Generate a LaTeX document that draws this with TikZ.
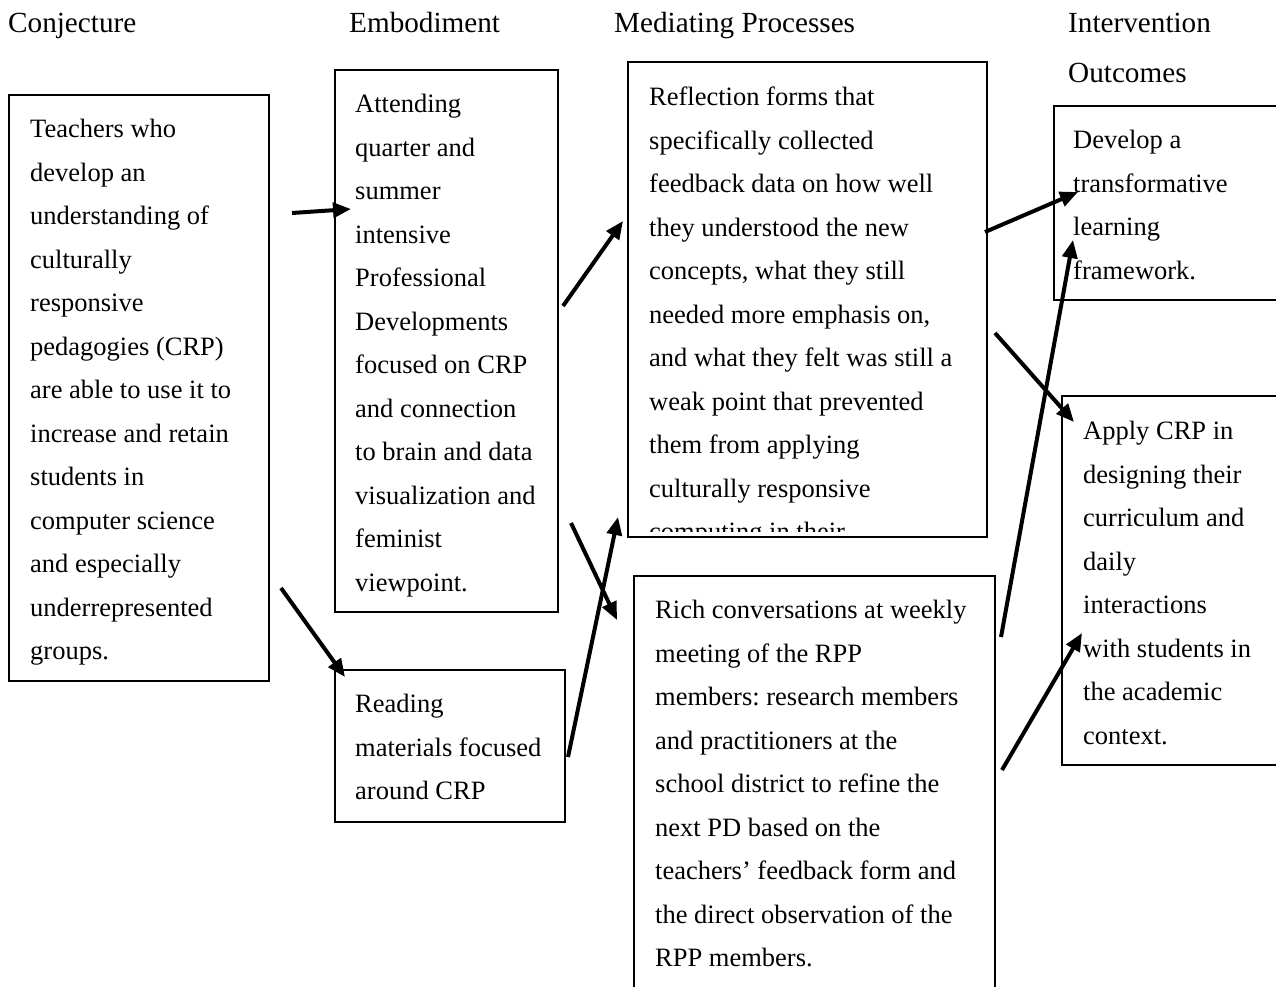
\documentclass[tikz,border=0pt]{standalone}
\usepackage{fontspec}
\setmainfont{Liberation Serif}
\frenchspacing
\usepackage{tikz}
\usetikzlibrary{arrows.meta}

\begin{document}
\begin{tikzpicture}[x=1pt,y=-1pt,
  box/.style={draw,line width=1.6pt,anchor=north west,inner sep=0pt,outer sep=0pt},
  txt/.style={anchor=north west,inner sep=0pt,align=left,font=\fontsize{26.5}{43.5}\selectfont},
  head/.style={anchor=base west,inner sep=0pt,font=\fontsize{29.2}{50}\selectfont},
  arr/.style={-{Triangle[length=18pt,width=15pt]},line width=4pt}]
\useasboundingbox (0,0) rectangle (1276,986);
\clip (0,0) rectangle (1276,986);
% column headings
\node[head] (hconj) at (8,32) {Conjecture};
\node[head] (hemb) at (349,32) {Embodiment};
\node[head] (hmed) at (614,32) {Mediating Processes};
\node[head,anchor=north west,align=left] (hout) at (1068,12.7) {Intervention\\Outcomes};
% boxes
\node[box,minimum width=260pt,minimum height=586pt] (conj) at (9,95) {};
\node[box,minimum width=223pt,minimum height=542pt] (att) at (335,70) {};
\node[box,minimum width=230pt,minimum height=152pt] (read) at (335,670) {};
\node[box,minimum width=359pt,minimum height=475pt] (refl) at (628,62) {};
\node[box,minimum width=361pt,minimum height=420pt] (rich) at (634,576) {};
\node[box,minimum width=240pt,minimum height=194pt] (dev) at (1054,106) {};
\node[box,minimum width=240pt,minimum height=369pt] (app) at (1062,396) {};
% texts
\node[txt] (conjtxt) at ([shift={(21,24)}]conj.north west) {Teachers who\\develop an\\understanding of\\culturally\\responsive\\pedagogies (CRP)\\are able to use it to\\increase and retain\\students in\\computer science\\and especially\\underrepresented\\groups.};
\node[txt] (atttxt) at ([shift={(20,24)}]att.north west) {Attending\\quarter and\\summer\\intensive\\Professional\\Developments\\focused on CRP\\and connection\\to brain and data\\visualization and\\feminist\\viewpoint.};
\node[txt] (readtxt) at ([shift={(20,24)}]read.north west) {Reading\\materials focused\\around CRP};
\begin{scope}
\clip (refl.north west) rectangle ([yshift=6pt]refl.south east);
\node[txt] (refltxt) at ([shift={(21,25)}]refl.north west) {Reflection forms that\\specifically collected\\feedback data on how well\\they understood the new\\concepts, what they still\\needed more emphasis on,\\and what they felt was still a\\weak point that prevented\\them from applying\\culturally responsive\\computing in their};
\end{scope}
\node[txt] (richtxt) at ([shift={(21,24)}]rich.north west) {Rich conversations at weekly\\meeting of the RPP\\members: research members\\and practitioners at the\\school district to refine the\\next PD based on the\\teachers’ feedback form and\\the direct observation of the\\RPP members.};
\node[txt] (devtxt) at ([shift={(19,24)}]dev.north west) {Develop a\\transformative\\learning\\framework.};
\node[txt] (apptxt) at ([shift={(21,25)}]app.north west) {Apply CRP in\\designing their\\curriculum and\\daily\\interactions\\with students in\\the academic\\context.};
% arrows
\draw[arr] ([shift={(23,118)}]conj.north east) -- ([shift={(16,139)}]att.north west);
\draw[arr] ([shift={(12,493)}]conj.north east) -- ([shift={(10,7)}]read.north west);
\draw[arr] ([shift={(5,236)}]att.north east) -- ([shift={(-5,159)}]refl.north west);
\draw[arr] ([shift={(13,453)}]att.north east) -- ([shift={(-17,44)}]rich.north west);
\draw[arr] ([shift={(3,87)}]read.north east) -- ([shift={(-10,-20)}]refl.south west);
\draw[arr] ([shift={(-2,170)}]refl.north east) -- ([shift={(24,86)}]dev.north west);
\draw[arr] ([shift={(6,61)}]rich.north east) -- ([shift={(19,134)}]dev.north west);
\draw[arr] ([shift={(8,271)}]refl.north east) -- ([shift={(12,26)}]app.north west);
\draw[arr] ([shift={(7,194)}]rich.north east) -- ([shift={(20,237)}]app.north west);
\end{tikzpicture}
\end{document}
